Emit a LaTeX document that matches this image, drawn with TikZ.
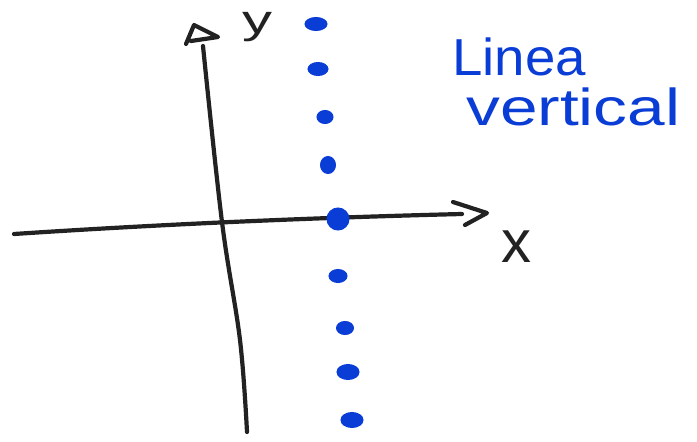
\documentclass[tikz,border=0pt]{standalone}
\usepackage{fontspec}
\setmainfont{Liberation Sans}
\definecolor{ink}{HTML}{222222}
\definecolor{pen}{HTML}{0A3CD6}
\begin{document}
\begin{tikzpicture}[x=1pt,y=-1pt,
  axis/.style={draw=ink,line width=4.2pt,line cap=round,line join=round},
  dot/.style={fill=pen,draw=pen,line width=1pt},
  lbl/.style={text=ink,inner sep=0pt},
  note/.style={text=pen,inner sep=0pt,align=left}]
\useasboundingbox[fill=white] (0,0) rectangle (697,442);
% x axis
\coordinate (xs) at (14,234);
\coordinate (xe) at (462,214);
\coordinate (xa1) at (453,202);
\coordinate (xa2) at (487,213);
\coordinate (xa3) at (465,225);
\draw[axis] (xs) .. controls (150,225) and (300,218) .. (xe);
\draw[axis] (xa1) -- (xa2) -- (xa3);
% y axis
\coordinate (ys) at (247,432);
\coordinate (ym) at (240,340);
\coordinate (yo) at (222,222);
\coordinate (ye) at (203,46);
\coordinate (ya1) at (186,44);
\coordinate (ya2) at (194,25);
\coordinate (ya3) at (218,37);
\draw[axis] plot[smooth,tension=0.6] coordinates {(ys) (ym) (yo) (ye)};
\draw[axis] (ya1) -- (ya2) -- (ya3) -- (191,41);
% labels
\node[lbl,font=\fontsize{40}{40}\selectfont] (ylab) at (257,27) {\scalebox{1.5}[1]{y}};
\node[lbl,font=\fontsize{60}{60}\selectfont] (xlab) at (516,247) {x};
\node[note,font=\fontsize{52}{50}\selectfont,anchor=north west] (title) at (452,38) {\scalebox{1.05}[1]{Linea}\\\hspace*{14pt}\scalebox{1.3}[1]{vertical}};
% dots
\foreach \n/\x/\y/\w/\h in {1/316/24/11/6.5, 2/318/69/10/6.5, 3/325/117/8/6.5, 4/328/165/7.5/8.5,
  5/338/219/11/11, 6/338/276/9/6.5, 7/345/328/8.5/6.5, 8/348/372/11/7.5, 9/352/420/11/7.5}
  \draw[dot] (\x,\y) ellipse [x radius=\w, y radius=\h] node (d\n) {};
\end{tikzpicture}
\end{document}
